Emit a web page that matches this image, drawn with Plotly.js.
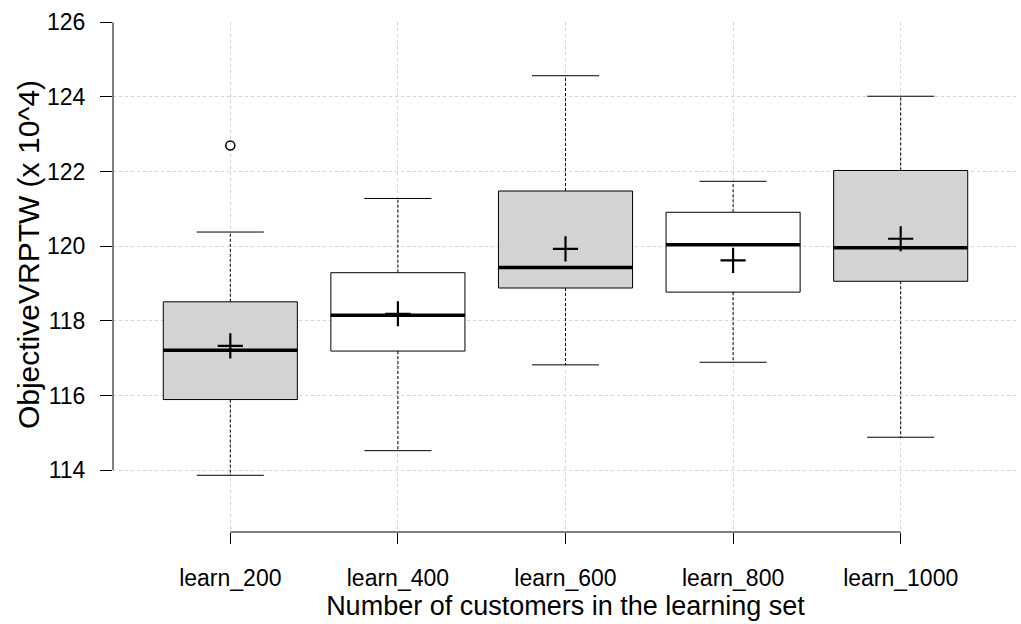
<!DOCTYPE html>
<html>
<head>
<meta charset="utf-8">
<script src="https://cdn.plot.ly/plotly-3.0.1.min.js"></script>
<style>html,body{margin:0;padding:0;background:#fff;}#chart{width:1021px;height:624px;}</style>
</head>
<body>
<div id="chart"></div>
<script>
const categories = ["learn_200", "learn_400", "learn_600", "learn_800", "learn_1000"];
const positions = [1, 2, 3, 4, 5];
const lowerWhisker = [113.86, 114.52, 116.82, 116.89, 114.88];
const q1Values = [115.89, 117.19, 118.88, 118.77, 119.06];
const medianValues = [117.21, 118.15, 119.43, 120.04, 119.96];
const q3Values = [118.51, 119.29, 121.48, 120.91, 122.03];
const upperWhisker = [120.38, 121.28, 124.57, 121.74, 124.02];
const meanValues = [117.33, 118.19, 119.93, 119.62, 120.20];
const boxFills = ["#d3d3d3", "#ffffff", "#d3d3d3", "#ffffff", "#d3d3d3"];
const outlierCategory = [1];
const outlierValues = [122.70];
const yTicks = [114, 116, 118, 120, 122, 124, 126];
const xTitle = "Number of customers in the learning set";
const yTitle = "ObjectiveVRPTW (x 10^4)";

const BOX_W = 0.8, CAP_HALF = 0.2;
const traces = [];

// whiskers (dashed)
const wx = [], wy = [];
positions.forEach((p, i) => {
  wx.push(p, p, null, p, p, null);
  wy.push(q3Values[i], upperWhisker[i], null, q1Values[i], lowerWhisker[i], null);
});
traces.push({type: "scatter", mode: "lines", x: wx, y: wy, hoverinfo: "skip",
  line: {color: "#000", width: 1, dash: "3px,2px"}, showlegend: false});

// caps
const cx = [], cy = [];
positions.forEach((p, i) => {
  cx.push(p - CAP_HALF, p + CAP_HALF, null, p - CAP_HALF, p + CAP_HALF, null);
  cy.push(upperWhisker[i], upperWhisker[i], null, lowerWhisker[i], lowerWhisker[i], null);
});
traces.push({type: "scatter", mode: "lines", x: cx, y: cy, hoverinfo: "skip",
  line: {color: "#000", width: 1}, showlegend: false});

// boxes, one trace per fill colour
["#d3d3d3", "#ffffff"].forEach(fc => {
  const idx = positions.map((p, i) => i).filter(i => boxFills[i] === fc);
  traces.push({
    type: "box", x: idx.map(i => positions[i]),
    q1: idx.map(i => q1Values[i]), median: idx.map(i => medianValues[i]),
    q3: idx.map(i => q3Values[i]),
    lowerfence: idx.map(i => q1Values[i]), upperfence: idx.map(i => q3Values[i]),
    width: BOX_W, fillcolor: fc, line: {color: "#000", width: 1},
    whiskerwidth: 0, boxpoints: false, showlegend: false, hoverinfo: "skip"
  });
});

// thick medians
const mx = [], my = [];
positions.forEach((p, i) => {
  mx.push(p - BOX_W / 2, p + BOX_W / 2, null);
  my.push(medianValues[i], medianValues[i], null);
});
traces.push({type: "scatter", mode: "lines", x: mx, y: my, hoverinfo: "skip",
  line: {color: "#000", width: 3.5}, showlegend: false});

// means
traces.push({type: "scatter", mode: "markers", x: positions, y: meanValues,
  marker: {symbol: "cross-thin", size: 18, color: "#000", line: {color: "#000", width: 2.2}},
  showlegend: false, hoverinfo: "skip"});

// outliers
traces.push({type: "scatter", mode: "markers", x: outlierCategory, y: outlierValues,
  marker: {symbol: "circle-open", size: 9, color: "#000", line: {color: "#000", width: 1.5}},
  showlegend: false, hoverinfo: "skip"});

const layout = {
  width: 1021, height: 624,
  margin: {l: 113, r: 3, t: 22, b: 92},
  paper_bgcolor: "#fff", plot_bgcolor: "#fff",
  font: {family: "Liberation Sans, Arial, sans-serif", color: "#000", size: 23},
  boxmode: "overlay",
  showlegend: false,
  xaxis: {
    range: [0.3, 5.7], tickvals: positions, ticktext: categories,
    showline: false, zeroline: false,
    showgrid: true, gridcolor: "#d3d3d3", griddash: "dot", gridwidth: 1,
    ticks: "outside", ticklen: 11, tickcolor: "#000", tickwidth: 1,
    ticklabelstandoff: 14,
    tickfont: {size: 23},
    title: {text: xTitle, font: {size: 27}, standoff: 4}
  },
  yaxis: {
    range: [112.34, 126.01], tickvals: yTicks, ticktext: yTicks.map(String),
    showline: false, zeroline: false,
    showgrid: true, gridcolor: "#d3d3d3", griddash: "dot", gridwidth: 1,
    ticks: "outside", ticklen: 12, tickcolor: "#000", tickwidth: 1,
    ticklabelstandoff: 10,
    tickfont: {size: 23}
  },
  annotations: [
    {text: yTitle, textangle: -90, showarrow: false, xref: "paper", yref: "paper",
     x: -0.0939, y: 0.543, xanchor: "center", yanchor: "middle", font: {size: 30}}
  ],
  shapes: [
    {type: "line", xref: "x", yref: "paper", x0: positions[0], x1: positions[positions.length - 1], y0: 0, y1: 0,
     line: {color: "#000", width: 1}},
    {type: "line", xref: "paper", yref: "y", x0: 0, x1: 0, y0: yTicks[0], y1: yTicks[yTicks.length - 1],
     line: {color: "#000", width: 1}}
  ]
};

Plotly.newPlot("chart", traces, layout, {staticPlot: true, displayModeBar: false});
</script>
</body>
</html>
